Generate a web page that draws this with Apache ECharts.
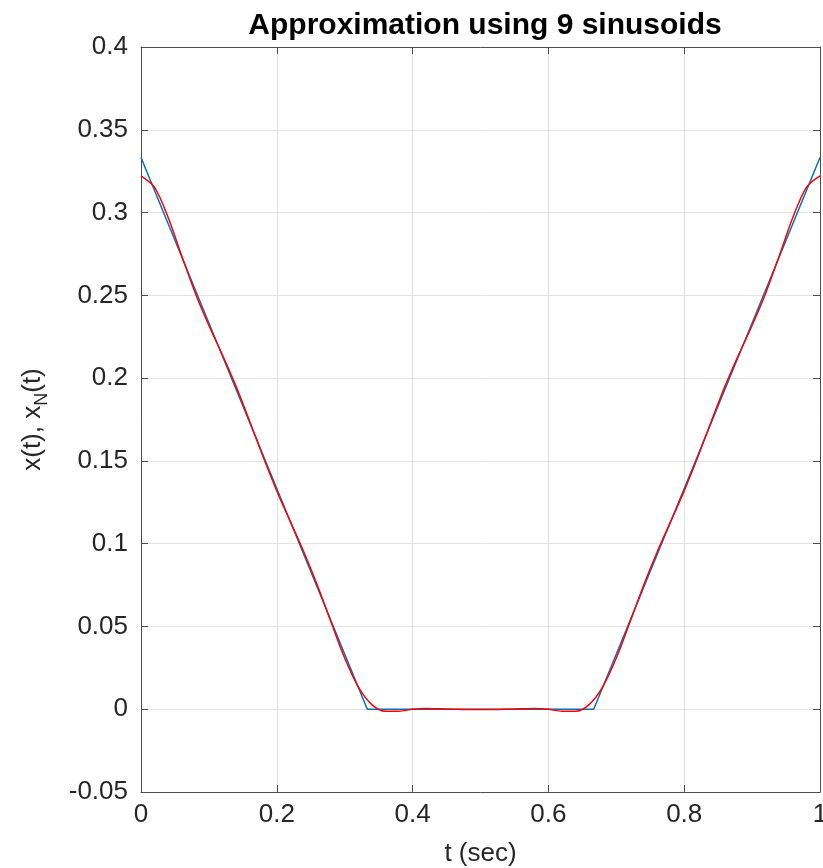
<!DOCTYPE html>
<html>
<head>
<meta charset="utf-8">
<script src="https://cdn.jsdelivr.net/npm/echarts@6/dist/echarts.min.js"></script>
<style>
html,body{margin:0;padding:0;background:#fff;}
#chart{width:823px;height:868px;}
</style>
</head>
<body>
<div id="chart"></div>
<script>
// ---- data ----
const titleText = 'Approximation using 9 sinusoids';
const xTicks = [0, 0.2, 0.4, 0.6, 0.8, 1];
const yTicks = [-0.05, 0, 0.05, 0.1, 0.15, 0.2, 0.25, 0.3, 0.35, 0.4];

// original signal x(t)
const blueT = [0, 0.3333, 0.6667, 1];
const blueY = [0.3333, 0, 0, 0.3333];

// approximation x_N(t)
const redT = [0, 0.02, 0.04, 0.06, 0.08, 0.10, 0.12, 0.14, 0.16, 0.18, 0.20, 0.22, 0.24, 0.26, 0.28, 0.30, 0.32, 0.34, 0.36, 0.38, 0.40, 0.42, 0.44, 0.46, 0.48, 0.50,
              0.52, 0.54, 0.56, 0.58, 0.60, 0.62, 0.64, 0.66, 0.68, 0.70, 0.72, 0.74, 0.76, 0.78, 0.80, 0.82, 0.84, 0.86, 0.88, 0.90, 0.92, 0.94, 0.96, 0.98, 1.00];
const redY = [0.3221, 0.3152, 0.2970, 0.2738, 0.2513, 0.2318, 0.2139, 0.1950, 0.1740, 0.1523, 0.1319, 0.1133, 0.0948, 0.0746, 0.0525, 0.0309, 0.0135, 0.0028, -0.0012, -0.0012, 0.0000, 0.0005, 0.0003, 0.0000, -0.0002, -0.0002,
              -0.0002, 0.0000, 0.0003, 0.0005, 0.0000, -0.0012, -0.0012, 0.0028, 0.0135, 0.0309, 0.0525, 0.0746, 0.0948, 0.1133, 0.1319, 0.1523, 0.1740, 0.1950, 0.2139, 0.2318, 0.2513, 0.2738, 0.2970, 0.3152, 0.3221];

// ---- chart ----
const FONT = '"Liberation Sans", Arial, Helvetica, sans-serif';
const AXIS_COLOR = '#4d4d4d';
const TEXT_COLOR = '#262626';
const chart = echarts.init(document.getElementById('chart'), null, {renderer: 'canvas'});

const xMin = xTicks[0], xMax = xTicks[xTicks.length - 1];
const yMin = yTicks[0], yMax = yTicks[yTicks.length - 1];

const baseTick = {show: true, inside: true, length: 7, lineStyle: {color: AXIS_COLOR, width: 1}};
const baseLine = {show: true, onZero: false, lineStyle: {color: AXIS_COLOR, width: 1}};

chart.setOption({
  animation: false,
  backgroundColor: '#fff',
  title: {
    text: titleText,
    left: 480, top: 6, textAlign: 'center',
    textStyle: {fontFamily: FONT, fontWeight: 'bold', fontSize: 30, color: '#000'}
  },
  grid: {left: 141, right: 3, top: 47, bottom: 76, containLabel: false, outerBoundsMode: 'none'},
  xAxis: [{
    type: 'value', min: xMin, max: xMax, interval: 0.2,
    position: 'bottom',
    axisLine: baseLine, axisTick: baseTick,
    axisLabel: {fontFamily: FONT, fontSize: 26, color: TEXT_COLOR, margin: 10},
    splitLine: {show: true, lineStyle: {color: '#e3e3e3', width: 1}},
    name: 't (sec)', nameLocation: 'middle', nameGap: 49,
    nameTextStyle: {fontFamily: FONT, fontSize: 26, color: TEXT_COLOR}
  }, {
    type: 'value', min: xMin, max: xMax, interval: 0.2,
    position: 'top',
    axisLine: baseLine, axisTick: baseTick,
    axisLabel: {show: false}, splitLine: {show: false}
  }],
  yAxis: [{
    type: 'value', min: yMin, max: yMax, interval: 0.05,
    position: 'left',
    axisLine: baseLine, axisTick: baseTick,
    axisLabel: {fontFamily: FONT, fontSize: 26, color: TEXT_COLOR, margin: 13},
    splitLine: {show: true, lineStyle: {color: '#e3e3e3', width: 1}},
    name: 'x(t), x{sub|N}(t)', nameLocation: 'middle', nameGap: 90, nameRotate: 90,
    nameTextStyle: {
      fontFamily: FONT, fontSize: 26, color: TEXT_COLOR, lineHeight: 36,
      rich: {sub: {fontFamily: FONT, fontSize: 18, color: TEXT_COLOR, lineHeight: 18, verticalAlign: 'bottom'}}
    }
  }, {
    type: 'value', min: yMin, max: yMax, interval: 0.05,
    position: 'right',
    axisLine: baseLine, axisTick: baseTick,
    axisLabel: {show: false}, splitLine: {show: false}
  }],
  series: [{
    type: 'line', name: 'x(t)',
    data: blueT.map((t, i) => [t, blueY[i]]),
    showSymbol: false, symbol: 'none',
    lineStyle: {color: '#0072BD', width: 1.5},
    z: 2
  }, {
    type: 'line', name: 'xN(t)',
    data: redT.map((t, i) => [t, redY[i]]),
    showSymbol: false, symbol: 'none', smooth: 0.3,
    lineStyle: {color: '#ff0000', width: 1.5},
    z: 3
  }]
});
</script>
</body>
</html>
